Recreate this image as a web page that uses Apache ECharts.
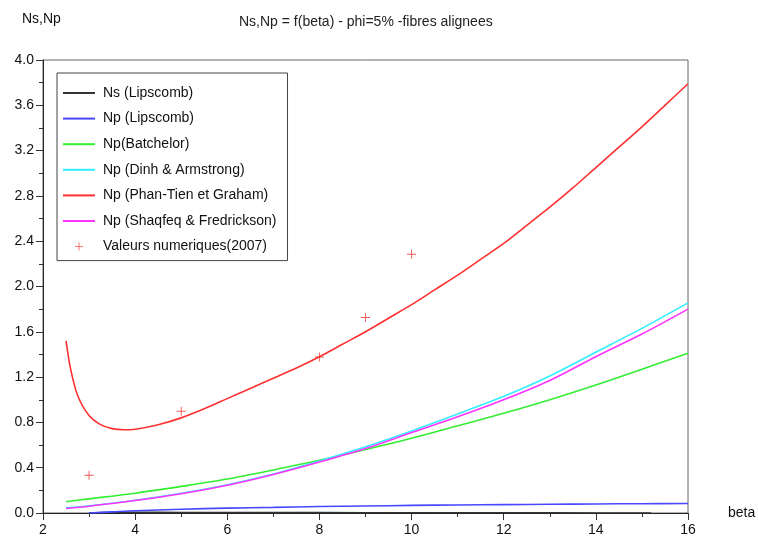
<!DOCTYPE html>
<html>
<head>
<meta charset="utf-8">
<script src="https://cdn.jsdelivr.net/npm/echarts@6/dist/echarts.min.js"></script>
<style>
html,body{margin:0;padding:0;background:#fff;}
#chart{width:758px;height:540px;}
</style>
</head>
<body>
<div id="chart"></div>
<script>
// ---- data ----
var betaRed = [2.5,2.6,2.75,3.0,3.25,3.5,3.75,4.0,4.5,5,5.5,6,6.5,7,7.5,8,8.5,9,9.5,10,10.5,11,11.5,12,12.5,13,13.5,14,14.5,15,15.5,16];
var npPhanTien = [1.52,1.27,1.04,0.86,0.78,0.745,0.735,0.74,0.78,0.84,0.92,1.01,1.10,1.19,1.28,1.38,1.49,1.60,1.72,1.84,1.97,2.10,2.24,2.38,2.54,2.70,2.87,3.05,3.23,3.41,3.60,3.79];

var betaMain = [2.5,3,4,5,6,7,8,9,10,11,12,13,14,15,16];
var npBatchelor = [0.10,0.125,0.175,0.235,0.30,0.38,0.465,0.56,0.66,0.77,0.88,1.00,1.13,1.27,1.41];
var npDinh = [0.045,0.063,0.113,0.175,0.25,0.345,0.46,0.585,0.725,0.875,1.03,1.21,1.42,1.63,1.855];
var npShaqfeq = [0.04,0.06,0.11,0.17,0.245,0.34,0.45,0.57,0.71,0.85,1.00,1.17,1.38,1.58,1.80];

var betaLip = [3,3.5,4,5,6,7,8,9,10,11,12,13,14,15,16];
var npLipscomb = [0.0,0.01,0.02,0.033,0.043,0.05,0.057,0.062,0.067,0.071,0.074,0.077,0.080,0.082,0.084];

var betaNs = [3,3.5,4,5,6,8,10,12,14,15.2];
var nsLipscomb = [0.0,0.005,0.006,0.005,0.004,0.003,0.002,0.001,0.0005,0.0];

var betaNum = [3,5,8,9,10];
var npNum = [0.333,0.898,1.378,1.726,2.285];

var seriesNames = ['Ns (Lipscomb)','Np (Lipscomb)','Np(Batchelor)','Np (Dinh & Armstrong)','Np (Phan-Tien et Graham)','Np (Shaqfeq & Fredrickson)','Valeurs numeriques(2007)'];
var seriesColors = ['#333333','#4848ff','#33ee33','#33eeff','#ff3030','#ff33ff','#e83030'];

var xTicks = {min:2, max:16, interval:2};
var yTicks = {min:0, max:4, interval:0.4};
// -------------------------------------

function pairs(xs, ys){ return xs.map(function(x,i){ return [x, ys[i]]; }); }

var FONT = 'Liberation Sans, Arial, Helvetica, sans-serif';
var FS = 14;
var linePath = 'path://M0,0 h32 v2 h-32 z';
var plusPath = 'path://M0,4.5 h10 v1 h-10 z M4.5,0 h1 v10 h-1 z';

var lineData = [
  pairs(betaNs, nsLipscomb),
  pairs(betaLip, npLipscomb),
  pairs(betaMain, npBatchelor),
  pairs(betaMain, npDinh),
  pairs(betaRed, npPhanTien),
  pairs(betaMain, npShaqfeq)
];

var series = lineData.map(function(d, i){
  return {
    name: seriesNames[i], type:'line', data:d, smooth:0.3,
    symbol:'none', showSymbol:false,
    lineStyle:{color:seriesColors[i], width:1.6},
    itemStyle:{color:seriesColors[i]},
    z: 3 + (i===4 ? 1 : 0)
  };
});
series.push({
  name: seriesNames[6], type:'scatter', data:pairs(betaNum, npNum),
  symbol: plusPath, symbolSize: 9,
  itemStyle:{color:seriesColors[6]}, z:5
});

var chart = echarts.init(document.getElementById('chart'), null, {renderer:'canvas'});
chart.setOption({
  backgroundColor:'#fff',
  animation:false,
  title:{
    text:'Ns,Np = f(beta) - phi=5% -fibres alignees',
    left:234, top:10,
    textStyle:{fontFamily:FONT, fontSize:FS, fontWeight:'normal', color:'#222'}
  },
  grid:{left:43, right:70, top:60, bottom:27, show:true, borderColor:'#666', borderWidth:1,
        backgroundColor:'#fff', outerBoundsMode:'none', containLabel:false},
  legend:{
    orient:'vertical', left:57, top:73,
    padding:[12,11,6,6], itemGap:9.6,
    itemWidth:32, itemHeight:8,
    backgroundColor:'#fff', borderColor:'#444', borderWidth:1,
    textStyle:{fontFamily:FONT, fontSize:FS, color:'#111', lineHeight:16, padding:[0,0,0,3]},
    data: seriesNames.map(function(n,i){ return {name:n, icon: i<6 ? linePath : plusPath}; })
  },
  xAxis:{
    type:'value', min:xTicks.min, max:xTicks.max, interval:xTicks.interval,
    name:'beta', nameLocation:'end', nameGap:40,
    nameTextStyle:{fontFamily:FONT, fontSize:FS, color:'#111', verticalAlign:'middle'},
    axisLine:{show:true, lineStyle:{color:'#222', width:1}},
    axisTick:{show:true, length:7, lineStyle:{color:'#333'}},
    minorTick:{show:true, splitNumber:2, length:4, lineStyle:{color:'#333'}},
    splitLine:{show:false},
    axisLabel:{fontFamily:FONT, fontSize:FS, color:'#111', margin:10}
  },
  yAxis:{
    type:'value', min:yTicks.min, max:yTicks.max, interval:yTicks.interval,
    name:'Ns,Np', nameLocation:'end', nameGap:34,
    nameTextStyle:{fontFamily:FONT, fontSize:FS, color:'#111', align:'left', padding:[0,0,0,-21]},
    axisLine:{show:true, lineStyle:{color:'#222', width:1}},
    axisTick:{show:true, length:7, lineStyle:{color:'#333'}},
    minorTick:{show:true, splitNumber:2, length:4, lineStyle:{color:'#333'}},
    splitLine:{show:false},
    axisLabel:{fontFamily:FONT, fontSize:FS, color:'#111', margin:9,
      formatter:function(v){ return v.toFixed(1); }}
  },
  series: series
});
</script>
</body>
</html>
